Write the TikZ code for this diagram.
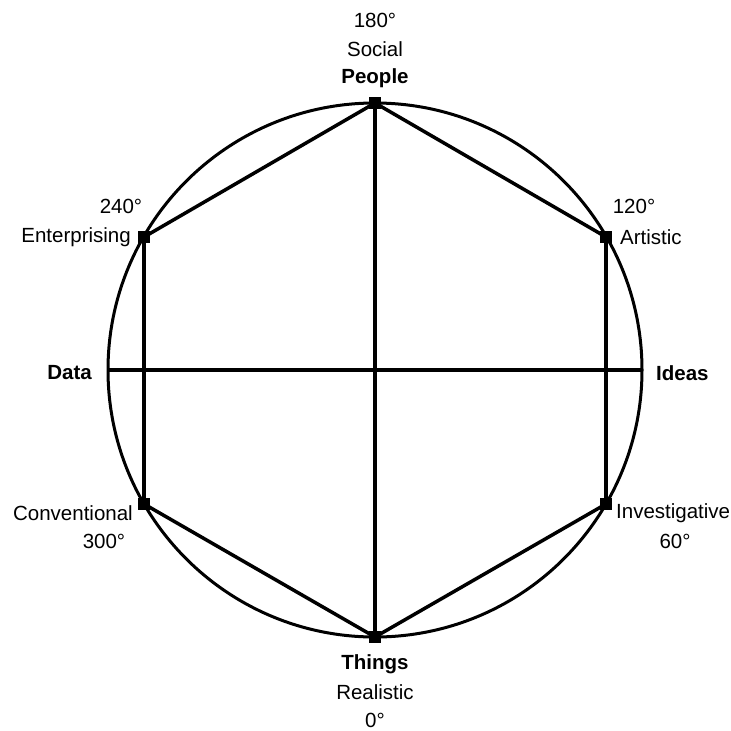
\documentclass[tikz,border=0pt]{standalone}
\usepackage{fontspec}
\setmainfont{Liberation Sans}
\tikzstyle{vertex} = [rectangle,fill=black,inner sep=0pt,minimum size=12pt]
\tikzstyle{label} = [inner sep=0pt,font=\fontsize{20.5}{25}\selectfont]
\tikzstyle{axis} = [label,font=\fontsize{20.5}{25}\selectfont\bfseries]
\tikzstyle{edge} = [line width=3.5pt]

\begin{document}
\begin{tikzpicture}[x=1pt,y=-1pt]
	\useasboundingbox (0,0) rectangle (731,731);
	\draw[line width=3pt] (375,370) circle (267);
	
	\node[vertex] (v0) at (375,637) {};
	\node[vertex] (v60) at (606,504) {};
	\node[vertex] (v120) at (606,237) {};
	\node[vertex] (v180) at (375,103) {};
	\node[vertex] (v240) at (144,237) {};
	\node[vertex] (v300) at (144,504) {};
	\coordinate (d) at (108,370);
	\coordinate (i) at (642,370);
	
	\draw[edge] (v180.center) -- (v0.center);
	\draw[edge] (d) -- (i);
	
	\draw[edge] (v0.center) -- (v60.center);
	\draw[edge] (v60.center) -- (v120.center);
	\draw[edge] (v120.center) -- (v180.center);
	\draw[edge] (v180.center) -- (v240.center);
	\draw[edge] (v240.center) -- (v300.center);
	\draw[edge] (v300.center) -- (v0.center);
	
	\node[label] (a180) at (375,20) {180°};
	\node[label] (social) at (375,49) {Social};
	\node[axis] (people) at (375,78) {People};
	
	\node[label] (a120) at (634,206) {120°};
	\node[label,anchor=west] (artistic) at (620,237) {Artistic};
	
	\node[label] (a240) at (121,206) {240°};
	\node[label,anchor=east] (enterprising) at (131,237) {Enterprising};
	
	\node[axis,anchor=east] (data) at (92,373) {Data};
	\node[axis,anchor=west] (ideas) at (656,373) {Ideas};
	
	\node[label,anchor=east] (conventional) at (133,513) {Conventional};
	\node[label] (a300) at (104,541) {300°};
	
	\node[label,anchor=west] (investigative) at (616,513) {Investigative};
	\node[label] (a60) at (675,541) {60°};
	
	\node[axis] (things) at (375,664) {Things};
	\node[label] (realistic) at (375,692) {Realistic};
	\node[label] (a0) at (375,720) {0°};
\end{tikzpicture}
\end{document}
